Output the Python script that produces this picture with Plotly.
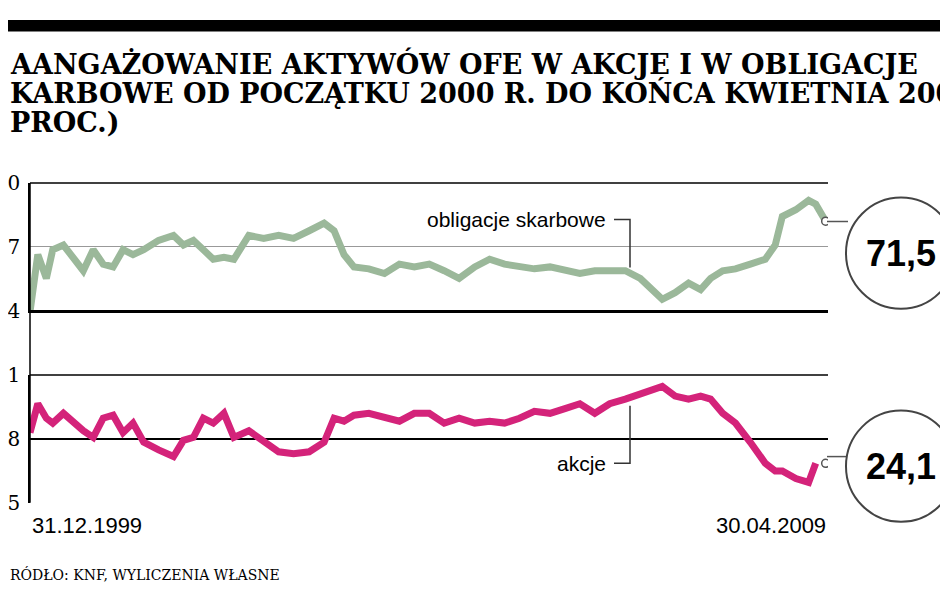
import pandas as pd
import plotly.graph_objects as go

# months since 31.12.1999
months = [0, 1.1, 2.3, 3.2, 4.7, 6.1, 7.5, 8.9, 10.3, 11.7, 13.1, 14.5, 16, 18.1, 20.2, 21.6,
          23, 24.4, 25.8, 27.3, 28.7, 30.8, 32.9, 35, 37.1, 39.3, 41.4, 42.8, 44.2, 45.6, 47.7,
          49.9, 52, 54.1, 56.2, 58.3, 60.4, 62.6, 64.7, 66.8, 68.9, 71, 73.2, 75.3, 77.4, 79.5,
          81.6, 83.8, 85.9, 87.3, 89, 90.8, 92.7, 94.4, 95.8, 97.5, 99.3, 101.4, 103.5, 104.9,
          105.9, 107.8, 109.6, 110.6, 112]
obligacje = [63.95, 66.64, 65.52, 66.87, 67.09, 66.42, 65.88, 66.87, 66.19, 66.06, 66.87, 66.64,
             66.87, 67.31, 67.54, 67.09, 67.31, 66.87, 66.42, 66.51, 66.42, 67.54, 67.40, 67.54,
             67.40, 67.76, 68.12, 67.76, 66.64, 66.06, 65.97, 65.75, 66.19, 66.06, 66.19, 65.88,
             65.52, 66.06, 66.42, 66.19, 66.06, 65.97, 66.06, 65.88, 65.75, 65.88, 65.88, 65.88,
             65.52, 65.07, 64.54, 64.85, 65.30, 64.99, 65.52, 65.88, 65.97, 66.19, 66.42, 67.09,
             68.43, 68.75, 69.19, 69.01, 68.21]
akcje = [28.29, 29.65, 28.97, 28.74, 29.20, 28.74, 28.38, 28.07, 28.97, 29.11, 28.29, 28.74,
         27.84, 27.48, 27.17, 27.93, 28.07, 28.97, 28.74, 29.20, 28.07, 28.38, 27.84, 27.39,
         27.30, 27.39, 27.84, 28.97, 28.83, 29.11, 29.20, 28.97, 28.83, 29.20, 29.20, 28.74,
         28.97, 28.74, 28.83, 28.74, 28.97, 29.29, 29.20, 29.42, 29.65, 29.20, 29.65, 29.87,
         30.10, 30.32, 30.46, 30.01, 29.87, 30.01, 29.87, 29.20, 28.74, 27.84, 26.85, 26.49,
         26.49, 26.13, 25.95, 26.85]
last_values = ["71,5", "24,1"]
top_ticks = [70, 67, 64]
bottom_ticks = [31, 28, 25]
tick_text_top = ["0", "7", "4"]
tick_text_bottom = ["1", "8", "5"]

dates = pd.Timestamp("1999-12-31") + pd.to_timedelta([m * 30.44 for m in months], unit="D")

GREEN = "#9bb89a"
PINK = "#d4237a"
W, H = 948, 593

fig = go.Figure()
fig.add_trace(go.Scatter(x=dates, y=obligacje, mode="lines", line=dict(color=GREEN, width=7),
                         yaxis="y", showlegend=False))
fig.add_trace(go.Scatter(x=dates, y=akcje, mode="lines", line=dict(color=PINK, width=7),
                         yaxis="y2", showlegend=False))
# end markers
fig.add_trace(go.Scatter(x=[dates[-1]], y=[obligacje[-1]], mode="markers", yaxis="y",
                         marker=dict(color="white", size=8, line=dict(color="#555", width=1.5)),
                         showlegend=False))
fig.add_trace(go.Scatter(x=[dates[-1]], y=[akcje[-1]], mode="markers", yaxis="y2",
                         marker=dict(color="white", size=8, line=dict(color="#555", width=1.5)),
                         showlegend=False))

x0, x1 = 22 / W, 820 / W

def px_y(y):
    return 1 - y / H

fig.update_layout(
    width=W, height=H, margin=dict(l=0, r=0, t=0, b=0),
    paper_bgcolor="white", plot_bgcolor="white",
    xaxis=dict(domain=[x0, x1], range=[dates[0], dates[-1] + pd.Timedelta(days=10)],
               showticklabels=False, showgrid=False, zeroline=False,
               showline=True, linecolor="black", linewidth=1.5),
    yaxis=dict(domain=[px_y(303), px_y(170)], range=[64, 70], tickvals=top_ticks,
               ticktext=tick_text_top, showgrid=True, gridcolor="#999", gridwidth=1,
               showline=True, linecolor="black", linewidth=1.5, zeroline=False,
               tickfont=dict(family="DejaVu Serif", size=20, color="black"), ticklabelstandoff=4),
    yaxis2=dict(domain=[px_y(503), px_y(370)], range=[25, 31], tickvals=bottom_ticks,
                ticktext=tick_text_bottom, showgrid=True, gridcolor="black", gridwidth=1.5,
                showline=True, linecolor="black", linewidth=1.5, zeroline=False,
                anchor="x", tickfont=dict(family="DejaVu Serif", size=20, color="black"),
                ticklabelstandoff=4),
)

shapes = [
    dict(type="rect", xref="paper", yref="paper", x0=0, x1=1, y0=px_y(12), y1=1,
         fillcolor="black", line=dict(width=0)),
    dict(type="line", xref="paper", yref="paper", x0=x0, x1=x1, y0=px_y(170), y1=px_y(170),
         line=dict(color="black", width=1.5)),
    dict(type="line", xref="paper", yref="paper", x0=x0, x1=x1, y0=px_y(303), y1=px_y(303),
         line=dict(color="black", width=1.5)),
    dict(type="line", xref="paper", yref="paper", x0=x0, x1=x1, y0=px_y(370), y1=px_y(370),
         line=dict(color="black", width=1.5)),
    dict(type="line", xref="paper", yref="paper", x0=x0, x1=x0, y0=px_y(503), y1=px_y(170),
         line=dict(color="black", width=1.5)),
]
for cy, ly in [(243, 210), (465, 455)]:
    shapes.append(dict(type="line", xref="paper", yref="paper", x0=819 / W, x1=840 / W,
                       y0=px_y(ly), y1=px_y(ly), line=dict(color="#555", width=1.5)))
    shapes.append(dict(type="circle", xref="paper", yref="paper", x0=838 / W, x1=948 / W,
                       y0=px_y(cy + 58), y1=px_y(cy - 58), fillcolor="white",
                       line=dict(color="#444", width=2)))
# callout brackets
shapes += [
    dict(type="path", xref="paper", yref="paper",
         path=f"M {606/W} {px_y(208)} L {622/W} {px_y(208)} L {622/W} {px_y(258)}",
         line=dict(color="#333", width=1.5)),
    dict(type="path", xref="paper", yref="paper",
         path=f"M {606/W} {px_y(462)} L {622/W} {px_y(462)} L {622/W} {px_y(402)}",
         line=dict(color="#333", width=1.5)),
]
fig.update_layout(shapes=shapes)

ann = []
title_lines = ["AANGAŻOWANIE AKTYWÓW OFE W AKCJE I W OBLIGACJE",
               "KARBOWE OD POCZĄTKU 2000 R. DO KOŃCA KWIETNIA 2009 R",
               "PROC.)"]
for i, t in enumerate(title_lines):
    ann.append(dict(text=f"<b>{t}</b>", x=0, y=px_y(45 + i * 31), xref="paper", yref="paper",
                    xanchor="left", yanchor="middle", showarrow=False,
                    font=dict(family="DejaVu Serif", size=27, color="black")))
ann += [
    dict(text="obligacje skarbowe", x=600 / W, y=px_y(208), xanchor="right",
         font=dict(family="Liberation Sans Narrow, Liberation Sans", size=21, color="black")),
    dict(text="akcje", x=600 / W, y=px_y(462), xanchor="right",
         font=dict(family="Liberation Sans Narrow, Liberation Sans", size=21, color="black")),
    dict(text="31.12.1999", x=x0, y=px_y(527), xanchor="left",
         font=dict(family="Liberation Sans Narrow, Liberation Sans", size=22, color="black")),
    dict(text="30.04.2009", x=x1, y=px_y(527), xanchor="right",
         font=dict(family="Liberation Sans Narrow, Liberation Sans", size=22, color="black")),
    dict(text="RÓDŁO: KNF, WYLICZENIA WŁASNE", x=0, y=px_y(578), xanchor="left",
         font=dict(family="DejaVu Serif", size=14, color="black")),
    dict(text=f"<b>{last_values[0]}</b>", x=893 / W, y=px_y(243), xanchor="center",
         font=dict(family="Liberation Sans", size=36, color="black")),
    dict(text=f"<b>{last_values[1]}</b>", x=893 / W, y=px_y(465), xanchor="center",
         font=dict(family="Liberation Sans", size=36, color="black")),
]
for a in ann:
    a.setdefault("xref", "paper")
    a.setdefault("yref", "paper")
    a.setdefault("showarrow", False)
    a.setdefault("yanchor", "middle")
fig.update_layout(annotations=ann)

fig.write_html("out.html")
